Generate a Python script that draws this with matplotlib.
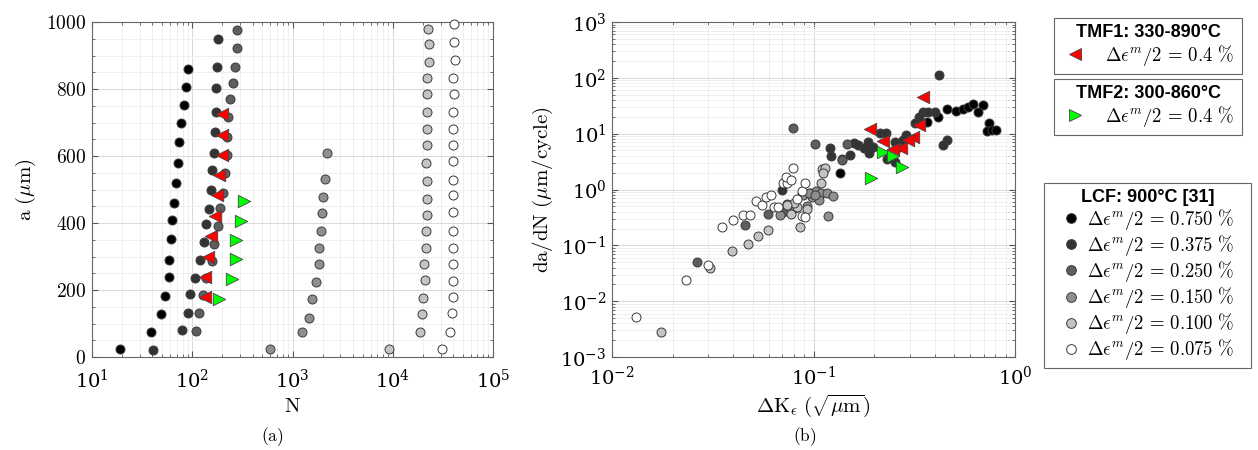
import matplotlib.pyplot as plt
import matplotlib.ticker as mticker
from matplotlib.lines import Line2D

plt.rcParams['mathtext.fontset'] = 'cm'
plt.rcParams['font.family'] = ['DejaVu Serif']
plt.rcParams['axes.formatter.use_mathtext'] = True

# ---- (a) crack length a vs cycles N ----
n_750 = [19, 39, 49, 54, 59, 59, 62, 63, 66, 69, 72, 74, 78, 83, 87, 90]
a_750 = [24, 74, 127, 181, 240, 290, 351, 409, 459, 520, 578, 641, 698, 753, 806, 860]
n_375 = [41, 79, 90, 96, 106, 120, 131, 137, 147, 153, 159, 164, 168, 172, 172, 175, 182]
a_375 = [21, 81, 130, 187, 237, 290, 343, 397, 443, 499, 558, 608, 671, 732, 804, 867, 949]
n_250 = [109, 117, 127, 137, 156, 166, 179, 189, 201, 212, 220, 220, 228, 238, 253, 267, 277, 277]
a_250 = [78, 130, 185, 237, 287, 337, 391, 444, 490, 548, 603, 656, 716, 769, 819, 867, 923, 976]
n_150 = [598, 1233, 1446, 1560, 1710, 1820, 1845, 1905, 1950, 1995, 2090, 2190]
a_150 = [24, 75, 117, 174, 224, 277, 326, 377, 430, 478, 531, 608]
n_100 = [9140, 18600, 19500, 20100, 20900, 20500, 21400, 21400, 21900, 21900,
         21900, 21400, 21900, 21900, 21900, 22200, 22200, 23100, 23100, 22700]
a_100 = [24, 75, 128, 177, 230, 277, 326, 377, 424, 473,
         525, 578, 632, 681, 732, 784, 834, 881, 933, 980]
n_075 = [30700, 37200, 38600, 39500, 39500, 39500, 39500, 39500, 40100, 40100,
         40100, 40100, 40100, 40100, 40100, 40700, 40100, 41900, 40700, 40700]
a_075 = [24, 75, 130, 179, 226, 277, 326, 377, 433, 484,
         528, 585, 632, 681, 732, 784, 834, 887, 940, 993]
n_tmf1 = [196, 196, 196, 186, 177, 169, 153, 143, 135, 134]
a_tmf1 = [725, 663, 603, 543, 484, 421, 362, 299, 240, 180]
n_tmf2 = [327, 306, 273, 271, 247, 186]
a_tmf2 = [466, 407, 349, 292, 232, 173]

# ---- (b) da/dN vs delta K_eps ----
k_750 = [0.461, 0.508, 0.553, 0.586, 0.621, 0.691, 0.658, 0.745, 0.724, 0.766, 0.805, 0.416, 0.365, 0.136]
d_750 = [27.6, 25.8, 27.3, 30.3, 33.5, 32.5, 24.1, 15.7, 11.3, 11.6, 11.6, 20.1, 16.0, 1.96]
k_375 = [0.420, 0.458, 0.441, 0.351, 0.371, 0.401, 0.334, 0.319, 0.214, 0.229, 0.288, 0.279, 0.254, 0.259,
         0.231, 0.254, 0.158, 0.167, 0.179, 0.187, 0.198, 0.189, 0.121, 0.122, 0.138, 0.151, 0.0695]
d_375 = [112, 7.7, 6.3, 24.7, 24.7, 24.7, 19.6, 15.3, 10.2, 10.2, 9.5, 7.7, 7.2, 5.5,
         3.5, 3.16, 6.7, 6.3, 5.5, 7.2, 5.7, 4.5, 5.5, 3.9, 3.5, 4.2, 0.96]
k_250 = [0.0789, 0.102, 0.138, 0.146, 0.0263, 0.0457, 0.0597, 0.0708, 0.0879, 0.0736]
d_250 = [12.8, 6.5, 3.4, 6.5, 0.0497, 0.228, 0.368, 0.394, 0.837, 0.548]
k_150 = [0.0961, 0.1028, 0.1088, 0.1163, 0.1245, 0.098, 0.1065, 0.1175, 0.0890, 0.0953, 0.1017, 0.0809, 0.0684, 0.0925]
d_150 = [0.883, 0.921, 0.863, 0.863, 0.750, 0.720, 0.655, 0.330, 0.804, 0.863, 0.804, 0.465, 0.353, 0.497]
k_100 = [0.0175, 0.0306, 0.0396, 0.0471, 0.0533, 0.0594, 0.0857, 0.0773, 0.0826, 0.0925, 0.0800,
         0.1089, 0.110, 0.114, 0.112, 0.0742]
d_100 = [0.00284, 0.0394, 0.0804, 0.106, 0.145, 0.185, 0.210, 0.364, 0.477, 0.452, 0.571,
         1.33, 2.31, 2.47, 1.96, 0.533]
k_075 = [0.01315, 0.0232, 0.0301, 0.0352, 0.0400, 0.0445, 0.0485, 0.0519, 0.0558, 0.0580, 0.0616, 0.0638,
         0.0669, 0.0703, 0.0736, 0.0727, 0.0773, 0.0794, 0.0826, 0.0874, 0.0908, 0.0874, 0.0908]
d_075 = [0.00518, 0.0244, 0.0452, 0.210, 0.279, 0.344, 0.344, 0.610, 0.518, 0.731, 0.782, 0.491,
         0.491, 1.33, 1.33, 1.66, 1.49, 2.47, 0.675, 0.921, 1.33, 0.330, 0.316]
k_tmf1 = [0.351, 0.334, 0.313, 0.295, 0.272, 0.247, 0.222, 0.191]
d_tmf1 = [44.7, 14.3, 8.8, 7.7, 5.5, 5.3, 7.5, 12.1]
k_tmf2 = [0.222, 0.249, 0.274, 0.192]
d_tmf2 = [4.6, 3.9, 2.58, 1.60]

lcf_labels = ['0.750', '0.375', '0.250', '0.150', '0.100', '0.075']
lcf_colors = ['#000000', '#333333', '#5e5e5e', '#8f8f8f', '#c4c4c4', '#ffffff']

W, H = 1258, 450
fig = plt.figure(figsize=(W / 100, H / 100), dpi=100)
ax1 = fig.add_axes([92 / W, 1 - 357 / H, 401 / W, 335 / H])
ax2 = fig.add_axes([612 / W, 1 - 357 / H, 403 / W, 335 / H])

edge = '#3a3a3a'
circ = dict(s=42, edgecolors=edge, linewidths=0.7, zorder=3, clip_on=False)
tri = dict(s=80, edgecolors='#444444', linewidths=0.6, zorder=4, clip_on=False)

left = [(n_750, a_750), (n_375, a_375), (n_250, a_250), (n_150, a_150), (n_100, a_100), (n_075, a_075)]
right = [(k_750, d_750), (k_375, d_375), (k_250, d_250), (k_150, d_150), (k_100, d_100), (k_075, d_075)]
for (x, y), c in zip(left, lcf_colors):
    ax1.scatter(x, y, c=c, **circ)
for (x, y), c in zip(right, lcf_colors):
    ax2.scatter(x, y, c=c, **circ)
ax1.scatter(n_tmf1, a_tmf1, marker='<', c='#ff0000', **tri)
ax1.scatter(n_tmf2, a_tmf2, marker='>', c='#00ff00', **tri)
ax2.scatter(k_tmf1, d_tmf1, marker='<', c='#ff0000', **tri)
ax2.scatter(k_tmf2, d_tmf2, marker='>', c='#00ff00', **tri)

ax1.set_xscale('log')
ax1.set_xlim(10, 1e5)
ax1.set_ylim(0, 1000)
ax1.yaxis.set_major_locator(mticker.MultipleLocator(200))
ax1.yaxis.set_minor_locator(mticker.MultipleLocator(50))
ax1.yaxis.set_major_formatter(mticker.FuncFormatter(lambda v, p: r'$%d$' % v))
ax1.set_xlabel(r'$\mathrm{N}$', fontsize=15, labelpad=4)
ax1.set_ylabel(r'$\mathrm{a}\ (\mu\mathrm{m})$', fontsize=15, labelpad=6)

ax2.set_xscale('log')
ax2.set_yscale('log')
ax2.set_xlim(1e-2, 1)
ax2.set_ylim(1e-3, 1e3)
ax2.yaxis.set_major_locator(mticker.LogLocator(base=10, numticks=10))
ax2.yaxis.set_minor_locator(mticker.LogLocator(base=10, subs=range(2, 10), numticks=10))
ax2.set_xlabel(r'$\Delta\mathrm{K}_\epsilon\ (\sqrt{\mu\mathrm{m}})$', fontsize=15, labelpad=3)
ax2.set_ylabel(r'$\mathrm{da/dN}\ (\mu\mathrm{m/cycle})$', fontsize=15, labelpad=4)

for ax in (ax1, ax2):
    ax.set_axisbelow(True)
    ax.grid(True, which='major', color='#d9d9d9', lw=0.7)
    ax.grid(True, which='minor', color='#ececec', lw=0.6)
    ax.tick_params(which='both', direction='in', top=True, right=True, color='#555555',
                   labelsize=14, pad=4)
    ax.tick_params(axis='x', which='both', pad=6)
    ax.tick_params(which='major', length=4)
    ax.tick_params(which='minor', length=2)
    for s in ax.spines.values():
        s.set_color('#666666')
        s.set_linewidth(0.8)
ax1.tick_params(axis='x', which='both', pad=8)

fig.text(272 / W, 1 - 437 / H, r'$\mathrm{(a)}$', fontsize=12.5, ha='center', va='center')
fig.text(805 / W, 1 - 437 / H, r'$\mathrm{(b)}$', fontsize=12.5, ha='center', va='center')

# ---- legends ----
title_font = dict(family='Liberation Sans', weight='bold', size=13)


def make_legend(handles, labels, title, x0, y0, width, hlen, hpad, lspace):
    leg = fig.legend(handles, labels, loc='upper left', bbox_to_anchor=(x0 / W, 1 - y0 / H, width / W, 0),
                     bbox_transform=fig.transFigure, mode='expand', title=title,
                     title_fontproperties=title_font, fontsize=13.5, frameon=True,
                     fancybox=False, edgecolor='#666666', framealpha=1,
                     handlelength=hlen, handletextpad=hpad, labelspacing=lspace,
                     borderpad=0.3, borderaxespad=0)
    leg.get_frame().set_linewidth(0.8)
    return leg


eps = r'$\Delta\epsilon^m/2\,=\,%s\ \%%$'
h1 = [Line2D([], [], ls='none', marker='<', ms=9, mfc='#ff0000', mec='#444444', mew=0.6)]
h2 = [Line2D([], [], ls='none', marker='>', ms=9, mfc='#00ff00', mec='#444444', mew=0.6)]
h3 = [Line2D([], [], ls='none', marker='o', ms=7, mfc=c, mec=edge, mew=0.7) for c in lcf_colors]

legs = [make_legend(h1, [eps % '0.4'], 'TMF1: 330-890°C', 1054, 18, 188, 1.6, 0.8, 0.12),
        make_legend(h2, [eps % '0.4'], 'TMF2: 300-860°C', 1054, 79, 188, 1.6, 0.8, 0.12),
        make_legend(h3, [eps % l for l in lcf_labels], 'LCF: 900°C [31]', 1044, 183, 207, 2.3, -0.3, 0.06)]

fig.canvas.draw()
inv = fig.transFigure.inverted()
for leg in legs:
    fb = leg.get_frame().get_window_extent()
    tb = leg.get_title().get_window_extent()
    yline = tb.y0 - 3
    p0 = inv.transform((fb.x0, yline))
    p1 = inv.transform((fb.x1, yline))
    fig.add_artist(Line2D([p0[0], p1[0]], [p0[1], p1[1]], transform=fig.transFigure,
                          color='#666666', lw=0.8))

fig.savefig('out.png', dpi=100)
